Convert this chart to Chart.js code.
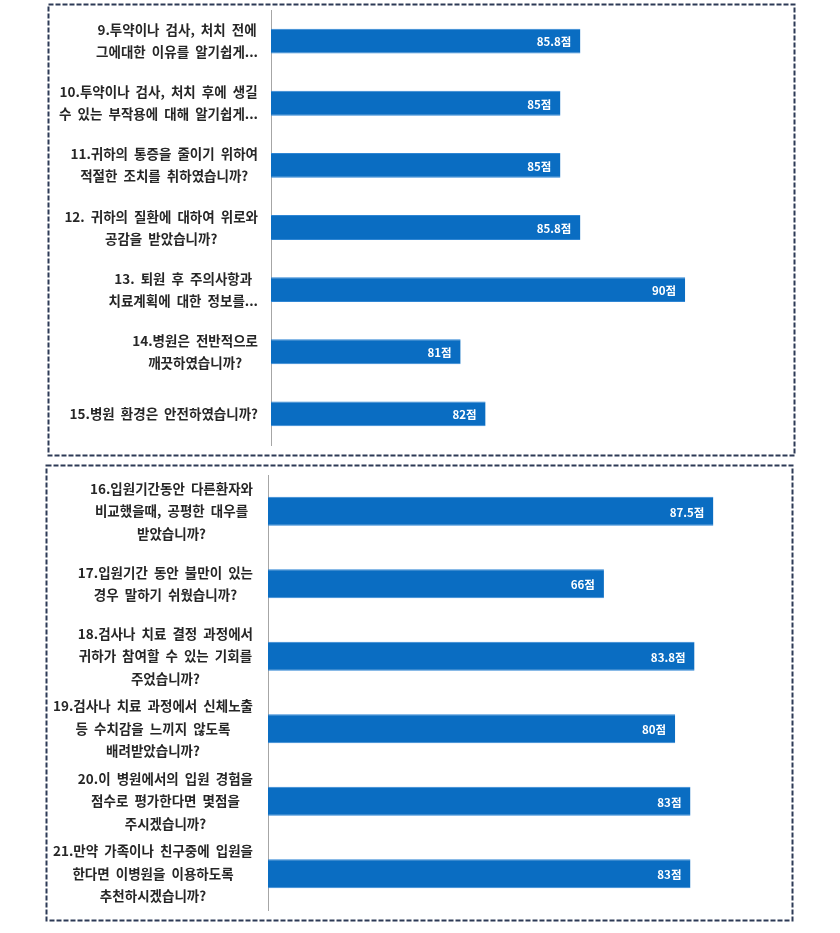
<!DOCTYPE html>
<html><head><meta charset="utf-8">
<script src="https://cdn.jsdelivr.net/npm/chart.js@4.4.0/dist/chart.umd.min.js"></script>
<style>
html,body{margin:0;padding:0;background:#fff;width:840px;height:933px;overflow:hidden}
.box{position:absolute}
svg{position:absolute;left:0;top:0}
</style></head><body>
<svg width="840" height="933">
  <rect x="48.5" y="4.5" width="746" height="451" fill="none" stroke="#2d3a56" stroke-width="2" stroke-dasharray="5 2"/>
  <rect x="46.5" y="465.5" width="746" height="455" fill="none" stroke="#2d3a56" stroke-width="2" stroke-dasharray="5 2"/>
</svg>
<div class="box" style="left:48px;top:4px;width:747px;height:452px"><canvas id="c1"></canvas></div>
<div class="box" style="left:46px;top:465px;width:747px;height:456px"><canvas id="c2"></canvas></div>
<script>
const topCategories = [
  ["9.투약이나 검사, 처치 전에","그에대한 이유를 알기쉽게..."],
  ["10.투약이나 검사, 처치 후에 생길","수 있는 부작용에 대해 알기쉽게..."],
  ["11.귀하의 통증을 줄이기 위하여","적절한 조치를 취하였습니까?"],
  ["12. 귀하의 질환에 대하여 위로와","공감을 받았습니까?"],
  ["13. 퇴원 후 주의사항과","치료계획에 대한 정보를..."],
  ["14.병원은 전반적으로","깨끗하였습니까?"],
  ["15.병원 환경은 안전하였습니까?"]
];
const topValues = [85.8, 85, 85, 85.8, 90, 81, 82];

const bottomCategories = [
  ["16.입원기간동안 다른환자와","비교했을때, 공평한 대우를","받았습니까?"],
  ["17.입원기간 동안 불만이 있는","경우 말하기 쉬웠습니까?"],
  ["18.검사나 치료 결정 과정에서","귀하가 참여할 수 있는 기회를","주었습니까?"],
  ["19.검사나 치료 과정에서 신체노출","등 수치감을 느끼지 않도록","배려받았습니까?"],
  ["20.이 병원에서의 입원 경험을","점수로 평가한다면 몇점을","주시겠습니까?"],
  ["21.만약 가족이나 친구중에 입원을","한다면 이병원을 이용하도록","추천하시겠습니까?"]
];
const bottomValues = [87.5, 66, 83.8, 80, 83, 83];
const unit = "점";

const FONT = '"Noto Sans CJK KR","Noto Sans",sans-serif';

const labelPlugin = {
  id: 'blockLabels',
  afterDraw(chart) {
    const ctx = chart.ctx;
    const ys = chart.scales.y;
    const lh = chart.options.plugins.blockLabels.lineHeight;
    const gap = chart.options.plugins.blockLabels.gap;
    ctx.save();
    ctx.font = 'bold 13.5px ' + FONT;
    if ('wordSpacing' in ctx) ctx.wordSpacing = '3px';
    ctx.fillStyle = '#262626';
    ctx.textBaseline = 'middle';
    ctx.textAlign = 'center';
    chart.data.labels.forEach((lab, i) => {
      const lines = Array.isArray(lab) ? lab : [lab];
      const w = Math.max(...lines.map(l => ctx.measureText(l).width));
      const cx = chart.chartArea.left - gap - w / 2;
      const cy = ys.getPixelForTick(i);
      const y0 = cy - (lines.length - 1) * lh / 2;
      lines.forEach((l, k) => ctx.fillText(l, cx, y0 + k * lh));
    });
    if ('wordSpacing' in ctx) ctx.wordSpacing = '0px';
    // value labels
    ctx.font = 'bold 11.5px ' + FONT;
    ctx.fillStyle = '#ffffff';
    ctx.textAlign = 'right';
    const meta = chart.getDatasetMeta(0);
    meta.data.forEach((bar, i) => {
      ctx.fillText(chart.data.datasets[0].data[i] + unit, bar.x - 9, bar.y + 1);
    });
    ctx.restore();
  }
};

function makeChart(id, cats, vals, xmin, xmax, pad, barPct, lh, gap) {
  return new Chart(document.getElementById(id), {
    type: 'bar',
    data: { labels: cats, datasets: [{ data: vals, backgroundColor: '#0a6dc2', borderColor: '#2f86d4', borderWidth: {top:1,bottom:1,right:0,left:0}, barPercentage: barPct, categoryPercentage: 1 }] },
    options: {
      indexAxis: 'y',
      responsive: true,
      maintainAspectRatio: false,
      animation: false,
      layout: { padding: pad },
      plugins: { legend: { display: false }, tooltip: { enabled: false }, blockLabels: { lineHeight: lh, gap: gap } },
      scales: {
        x: { display: false, min: xmin, max: xmax },
        y: { display: true, grid: { display: false }, ticks: { display: false }, border: { display: true, color: '#a6a6a6', width: 1 } }
      }
    },
    plugins: [labelPlugin]
  });
}

makeChart('c1', topCategories, topValues, 73.4, 94.0, { left: 215, top: 6, bottom: 11, right: 10 }, 0.4, 22, 13);
makeChart('c2', bottomCategories, bottomValues, 0, 100, { left: 214, top: 10, bottom: 11, right: 16 }, 0.4, 22.5, 15);
</script>
</body></html>
